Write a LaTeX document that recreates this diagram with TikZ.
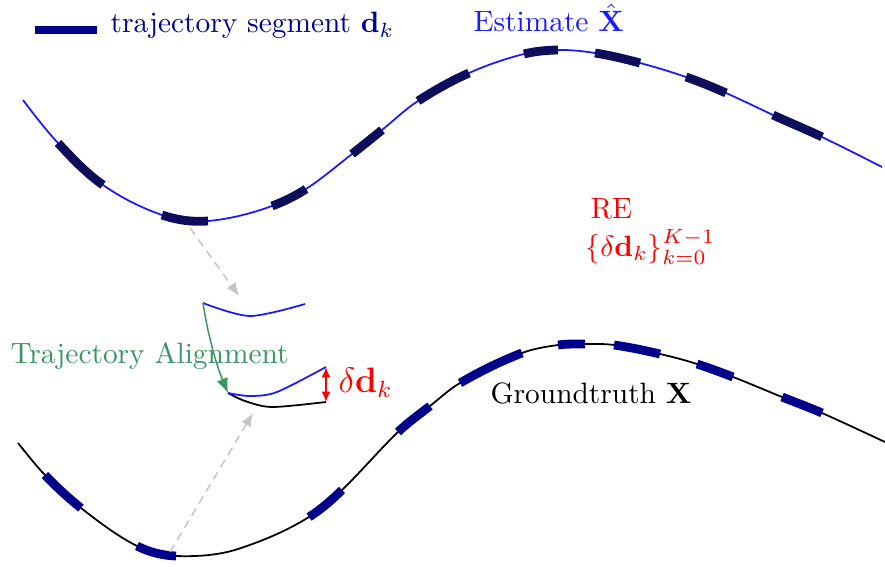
\documentclass[tikz,border=0pt]{standalone}
\usepackage{amsmath, amssymb}
\usepackage{xcolor}
\definecolor{estBlue}{HTML}{1A1AFF}
\definecolor{estSeg}{HTML}{0D0D5C}
\definecolor{gtSeg}{HTML}{00008B}
\definecolor{algGreen}{HTML}{3A9463}
\definecolor{hintGray}{HTML}{C4C4C4}
\usepackage{tikz}
\usetikzlibrary{arrows.meta, positioning}

\begin{document}
\begin{tikzpicture}[
  x=0.34pt, y=0.34pt, looseness=0.85,
  est/.style={line width=0.6pt, draw=estBlue},
  gt/.style={line width=0.6pt, draw=black},
  seg/.style={line width=3pt},
  hint/.style={hintGray, line width=0.5pt, dash pattern=on 2.8pt off 2pt, -{Latex[length=4.5pt, width=3.6pt]}},
  lbl/.style={inner sep=0pt, anchor=base west}
]
  \useasboundingbox (0,0) rectangle (885,566);

  % legend
  \coordinate (legA) at (35,536);
  \coordinate (legB) at (97,536);
  \draw[seg, gtSeg] (legA) -- (legB);
  \node[lbl, text=gtSeg] (legtxt) at (110,533) {trajectory segment $\mathbf{d}_k$};

  % estimate trajectory
  \foreach \n/\px/\py in {0/23/466, 1/58/423, 2/103/381, 3/162/351, 4/208/345, 5/272/360, 6/306/377, 7/352/412, 8/382/436, 9/418/465, 10/469/493, 11/524/512, 12/558/516, 13/595/513, 14/640/503, 15/686/489, 16/726/473, 17/773/451, 18/822/429, 19/882/399}
    \coordinate (e\n) at (\px,\py);
  \draw[est] (e0) to[out=-53,in=133] (e1) to[out=-47,in=145] (e2) to[out=-35,in=161] (e3)
    to[out=-19,in=185] (e4) to[out=5,in=200] (e5) to[out=20,in=213] (e6) to[out=33,in=218] (e7)
    to[out=38,in=219] (e8) to[out=39,in=213] (e9) to[out=33,in=204] (e10) to[out=24,in=194] (e11)
    to[out=14,in=181] (e12) to[out=1,in=171] (e13) to[out=-9,in=165] (e14) to[out=-15,in=161] (e15)
    to[out=-19,in=156] (e16) to[out=-24,in=155] (e17) to[out=-25,in=154] (e18) to[out=-26,in=153] (e19);
  \foreach \a/\b/\o/\i in {1/2/-47/145, 3/4/-19/185, 5/6/20/213, 7/8/38/219, 9/10/33/204, 11/12/14/181, 13/14/-9/165, 15/16/-19/156, 17/18/-25/154}
    \draw[seg, estSeg] (e\a) to[out=\o,in=\i] (e\b);
  \node[lbl, text=estBlue] (estlbl) at (473,534) {Estimate $\hat{\mathbf{X}}$};

  % groundtruth trajectory
  \foreach \n/\px/\py in {0/18/123, 1/45/91, 2/81/58, 3/137/20, 4/176/10, 5/238/17, 6/309/49, 7/342/76, 8/398/134, 9/430/160, 10/460/183, 11/522/213, 12/558/221, 13/585/222, 14/614/221, 15/660/212, 16/697/202, 17/733/189, 18/782/169, 19/822/153, 20/885/124}
    \coordinate (g\n) at (\px,\py);
  \draw[gt] (g0) to[out=-51,in=134] (g1) to[out=-46,in=142] (g2) to[out=-38,in=153] (g3)
    to[out=-27,in=178] (g4) to[out=-2,in=198] (g5) to[out=18,in=212] (g6) to[out=32,in=224] (g7)
    to[out=44,in=224] (g8) to[out=44,in=218] (g9) to[out=38,in=210] (g10) to[out=30,in=201] (g11)
    to[out=21,in=188] (g12) to[out=8,in=180] (g13) to[out=0,in=172] (g14) to[out=-8,in=167] (g15)
    to[out=-13,in=162] (g16) to[out=-18,in=159] (g17) to[out=-21,in=158] (g18) to[out=-22,in=156] (g19)
    to[out=-24,in=155] (g20);
  \foreach \a/\b/\o/\i in {1/2/-46/142, 3/4/-27/178, 6/7/32/224, 8/9/44/218, 10/11/30/201, 12/13/8/180, 14/15/-8/167, 16/17/-18/159, 18/19/-22/156}
    \draw[seg, gtSeg] (g\a) to[out=\o,in=\i] (g\b);
  \node[lbl] (gtlbl) at (490,163) {Groundtruth $\mathbf{X}$};

  % picked segments and alignment
  \coordinate (upA) at (203,263);
  \coordinate (loA) at (228,173);
  \coordinate (loB) at (326,199);
  \coordinate (loC) at (326,164);
  \draw[est] plot[smooth] coordinates {(upA) (250,250) (305,262)};
  \draw[gt] plot[smooth] coordinates {(loA) (245,165) (272,159) (loC)};
  \draw[est] plot[smooth] coordinates {(loA) (250,170) (277,174) (loB)};

  \coordinate (estPick) at (190,338);
  \coordinate (estDrop) at (239,270);
  \coordinate (gtPick) at (170,14);
  \coordinate (gtDrop) at (253,153);
  \draw[hint] (estPick) -- (estDrop);
  \draw[hint] (gtPick) -- (gtDrop);

  \draw[algGreen, line width=0.5pt, -{Latex[length=5pt, width=4pt]}] (upA) to[bend right=7] (loA);
  \node[lbl, text=algGreen] (alglbl) at (10,203) {Trajectory Alignment};

  \draw[red, line width=0.5pt, {Latex[length=3.5pt, width=3pt]}-{Latex[length=3.5pt, width=3pt]}] (loB) -- (loC);
  \node[lbl, text=red, font=\large] (errlbl) at (338,174) {$\delta\mathbf{d}_k$};

  % relative error
  \node[lbl, text=red] (relbl) at (590,348) {RE};
  \node[lbl, text=red] (reset) at (585,310) {$\{\delta\mathbf{d}_k\}_{k=0}^{K-1}$};
\end{tikzpicture}
\end{document}
